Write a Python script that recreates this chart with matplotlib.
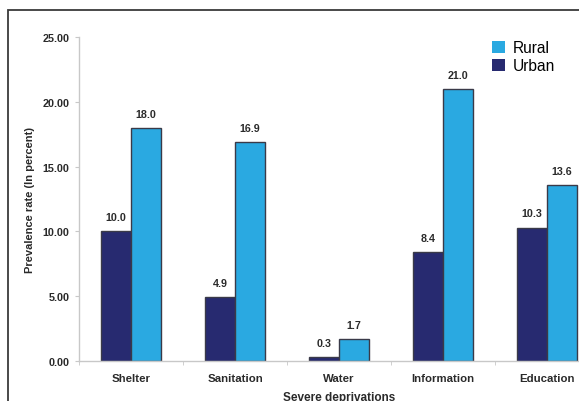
import matplotlib
matplotlib.use("Agg")
import matplotlib.pyplot as plt
from matplotlib.patches import Rectangle, Patch
import numpy as np

plt.rcParams['font.family'] = ['Liberation Sans', 'DejaVu Sans']

categories = ["Shelter", "Sanitation", "Water", "Information", "Education"]
urban = [10.0, 4.9, 0.3, 8.4, 10.3]
rural = [18.0, 16.9, 1.7, 21.0, 13.6]
yticks = [0, 5, 10, 15, 20, 25]

RURAL_C = "#2aa9e1"
URBAN_C = "#272a70"
EDGE_C = "#3a3a48"
AXIS_C = "#c8c8c8"
TEXT_C = "#2a2a2a"

W, H = 579, 402
fig = plt.figure(figsize=(W / 100, H / 100), dpi=100)

# plot area runs past the right edge of the canvas
left, right, bottom, top = 79, 599, 362, 38
ax = fig.add_axes([left / W, 1 - bottom / H, (right - left) / W, (bottom - top) / H])

x = np.arange(len(categories))
bw = 0.29
b_u = ax.bar(x - bw / 2, urban, bw, color=URBAN_C, edgecolor=EDGE_C, linewidth=1.0, label="Urban")
b_r = ax.bar(x + bw / 2, rural, bw, color=RURAL_C, edgecolor=EDGE_C, linewidth=1.0, label="Rural")

for bars, vals in ((b_u, urban), (b_r, rural)):
    for b, v in zip(bars, vals):
        ax.annotate(f"{v:.1f}", (b.get_x() + b.get_width() / 2, v), xytext=(0, 6.5),
                    textcoords="offset points", ha="center", va="bottom",
                    fontsize=7.7, fontweight="bold", color=TEXT_C)

ax.set_xlim(-0.5, len(categories) - 0.5)
ax.set_ylim(0, 25)
ax.set_yticks(yticks)
ax.set_yticklabels([f"{t:.2f}" for t in yticks], fontsize=7.8, fontweight="bold", color=TEXT_C)
ax.set_xticks(x)
ax.set_xticklabels(categories, fontsize=8.2, fontweight="bold", color=TEXT_C)
ax.set_xticks(np.arange(len(categories) + 1) - 0.5, minor=True)
ax.tick_params(axis="x", which="major", length=0, pad=8.5)
ax.tick_params(axis="x", which="minor", length=3, color=AXIS_C, direction="out")
ax.tick_params(axis="y", length=3, color=AXIS_C, pad=4)

for s in ("top", "right"):
    ax.spines[s].set_visible(False)
for s in ("left", "bottom"):
    ax.spines[s].set_color(AXIS_C)
    ax.spines[s].set_linewidth(1.0)

ax.set_ylabel("Prevalence rate (In percent)", fontsize=8, fontweight="bold", color=TEXT_C, labelpad=5)
ax.set_xlabel("Severe deprivations", fontsize=8.5, fontweight="bold", color=TEXT_C, labelpad=6)

handles = [Patch(facecolor=RURAL_C, edgecolor="none"), Patch(facecolor=URBAN_C, edgecolor="none")]
fig.legend(handles=handles, labels=["Rural", "Urban"], loc="upper left",
           bbox_to_anchor=(489 / W, 1 - 38 / H), frameon=False, fontsize=11.2,
           handlelength=0.85, handleheight=0.85, handletextpad=0.45, labelspacing=0.2,
           borderaxespad=0, borderpad=0.2)

# outer frame
fig.patches.append(Rectangle((8 / W, -0.2), 1.2, 1.2 - 11 / H, transform=fig.transFigure,
                             fill=False, edgecolor="#3a3a3a", linewidth=1.3, clip_on=False))

fig.savefig("out.png", dpi=100)
